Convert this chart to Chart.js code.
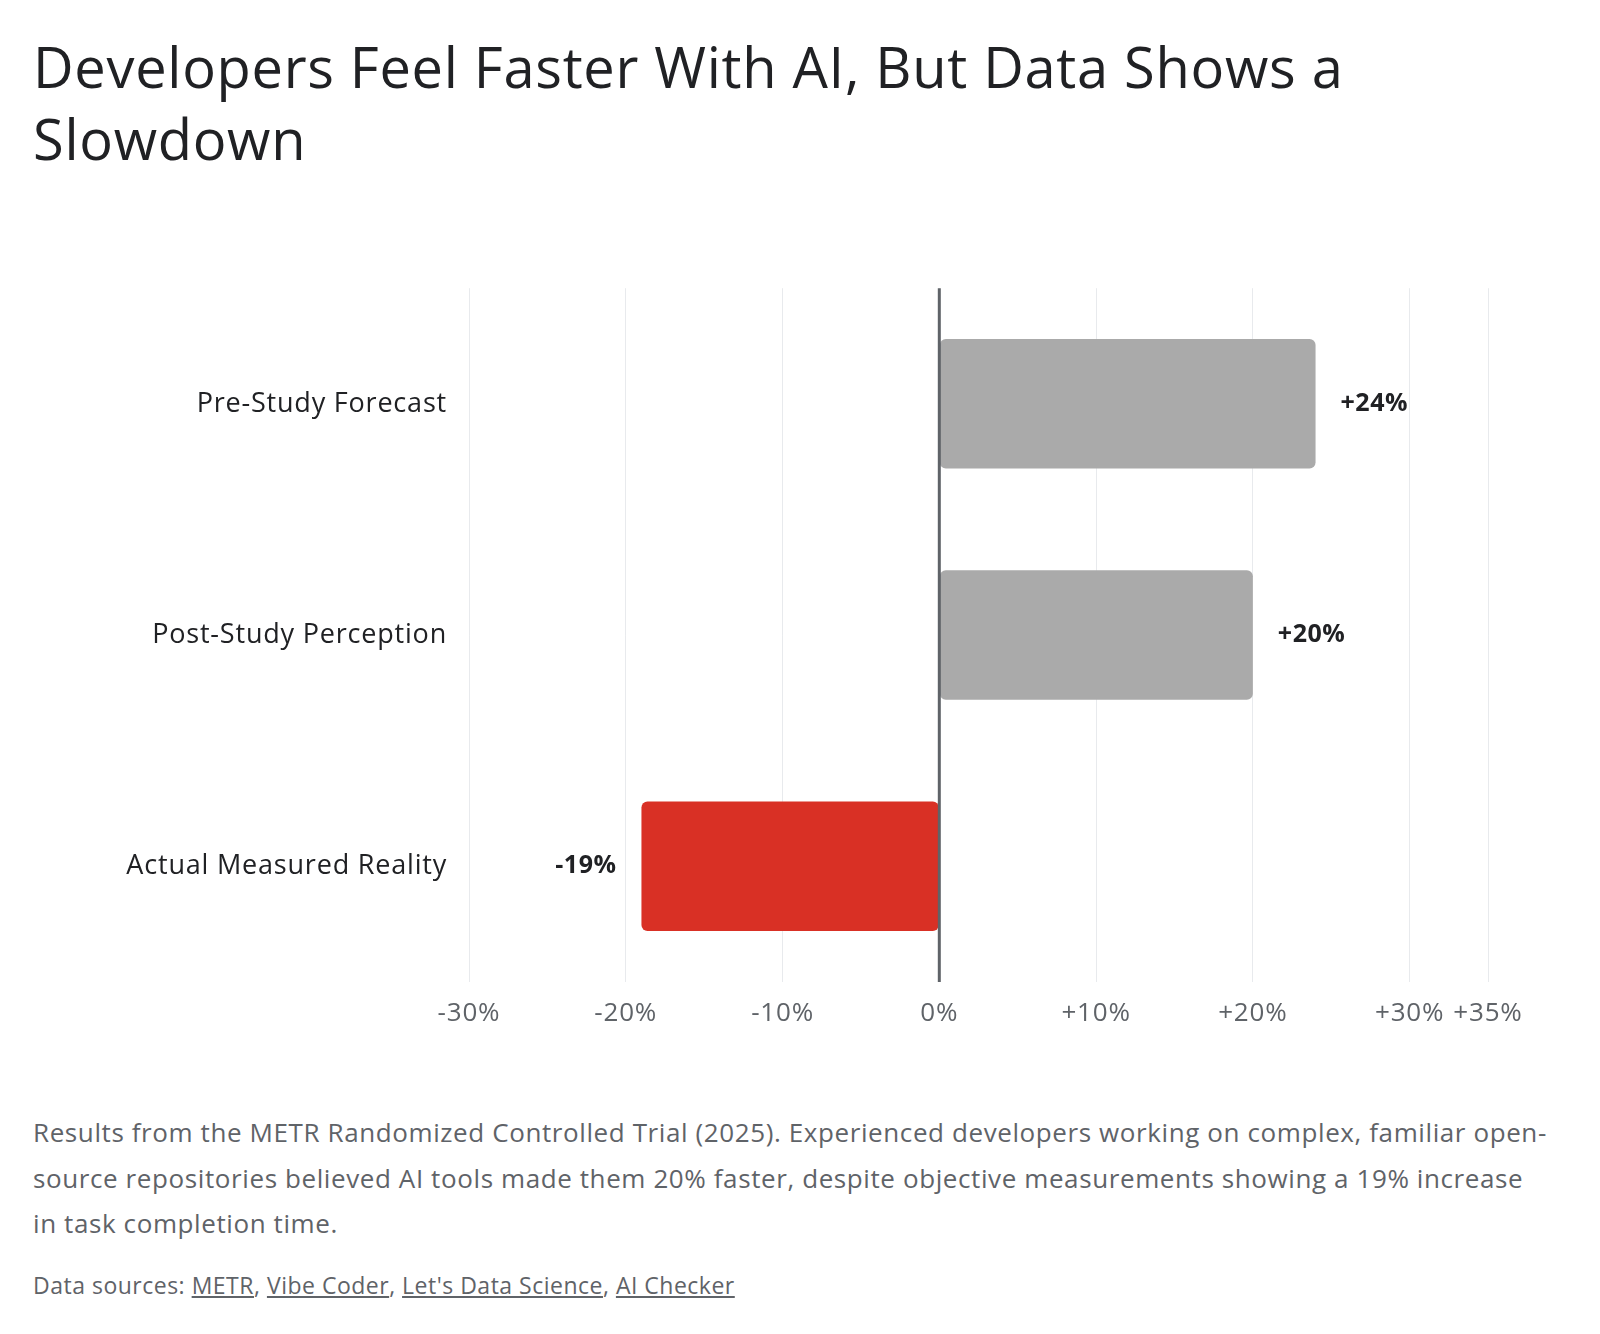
<!DOCTYPE html>
<html>
<head>
<meta charset="utf-8">
<script src="https://cdn.jsdelivr.net/npm/chart.js@4"></script>
<style>
  html, body { margin: 0; padding: 0; background: #fff; }
  body { width: 1600px; height: 1334px; position: relative; font-family: 'Open Sans', sans-serif; color: #202124; }
  h1 { position: absolute; left: 33px; top: 30px; margin: 0; font-weight: 400; font-size: 56px; line-height: 72px; letter-spacing: 0.7px; color: #202124; }
  #wrap { position: absolute; left: 0; top: 250px; width: 1600px; height: 800px; }
  .desc { position: absolute; left: 33px; top: 1110px; margin: 0; font-size: 26px; line-height: 45.5px; letter-spacing: 0.6px; color: #5f6368; white-space: nowrap; }
  .src { position: absolute; left: 33px; top: 1269px; margin: 0; font-size: 23px; letter-spacing: 0.5px; color: #5f6368; }
  .src a { color: #5f6368; text-decoration: underline; }
</style>
</head>
<body>
<h1>Developers Feel Faster With AI, But Data Shows a<br>Slowdown</h1>
<div id="wrap"><canvas id="chart"></canvas></div>
<p class="desc">Results from the METR Randomized Controlled Trial (2025). Experienced developers working on complex, familiar open-<br>source repositories believed AI tools made them 20% faster, despite objective measurements showing a 19% increase<br>in task completion time.</p>
<p class="src">Data sources: <a>METR</a>, <a>Vibe Coder</a>, <a>Let's Data Science</a>, <a>AI Checker</a></p>
<script>
const categories = ['Pre-Study Forecast', 'Post-Study Perception', 'Actual Measured Reality'];
const changes = [24, 20, -19];
const valueLabels = ['+24%', '+20%', '-19%'];
const barColors = ['#aaaaaa', '#aaaaaa', '#d93025'];

Chart.defaults.font.family = "'Open Sans', sans-serif";

// a bit of tracking so the text widths come closer to the original face
const spacing = {
    id: 'spacing',
    beforeDraw(chart) {
        chart.ctx.letterSpacing = '0.8px';
    }
};

// dark line at 0% drawn above the bars
const zeroLine = {
    id: 'zeroLine',
    afterDatasetsDraw(chart) {
        const x = chart.scales.x.getPixelForValue(0);
        const ctx = chart.ctx;
        ctx.save();
        ctx.strokeStyle = '#5f6368';
        ctx.lineWidth = 3;
        ctx.beginPath();
        ctx.moveTo(x, chart.chartArea.top);
        ctx.lineTo(x, chart.chartArea.bottom);
        ctx.stroke();
        ctx.restore();
    }
};

const barLabels = {
    id: 'barLabels',
    afterDatasetsDraw(chart) {
        const ctx = chart.ctx;
        const meta = chart.getDatasetMeta(0);
        ctx.save();
        ctx.font = "bold 25px 'Open Sans', sans-serif";
        ctx.letterSpacing = '0.5px';
        ctx.fillStyle = '#202124';
        ctx.textBaseline = 'middle';
        meta.data.forEach((bar, i) => {
            const neg = changes[i] < 0;
            ctx.textAlign = neg ? 'right' : 'left';
            ctx.fillText(valueLabels[i], bar.x + (neg ? -25 : 25), bar.y);
        });
        ctx.restore();
    }
};

new Chart(document.getElementById('chart'), {
    type: 'bar',
    data: {
        labels: categories,
        datasets: [{
            data: changes,
            backgroundColor: barColors,
            borderRadius: 6,
            borderSkipped: false,
            categoryPercentage: 0.8,
            barPercentage: 0.7
        }]
    },
    options: {
        indexAxis: 'y',
        responsive: true,
        maintainAspectRatio: false,
        animation: false,
        layout: { padding: { top: 18, right: 112, left: 0, bottom: 0 } },
        plugins: {
            legend: { display: false },
            tooltip: { enabled: false }
        },
        scales: {
            x: {
                min: -30,
                max: 35,
                ticks: {
                    stepSize: 10,
                    padding: 16,
                    color: '#5f6368',
                    font: { size: 26 },
                    callback: v => (v > 0 ? '+' : '') + v + '%'
                },
                grid: { color: '#e8eaed', lineWidth: 1, drawTicks: false },
                border: { display: false },
                afterFit: s => { s.height = 68; }
            },
            y: {
                ticks: {
                    padding: 22,
                    color: '#202124',
                    font: { size: 27 }
                },
                grid: { display: false, drawTicks: false },
                border: { display: false },
                afterFit: s => { s.width = 469; }
            }
        }
    },
    plugins: [spacing, zeroLine, barLabels]
});
</script>
</body>
</html>
